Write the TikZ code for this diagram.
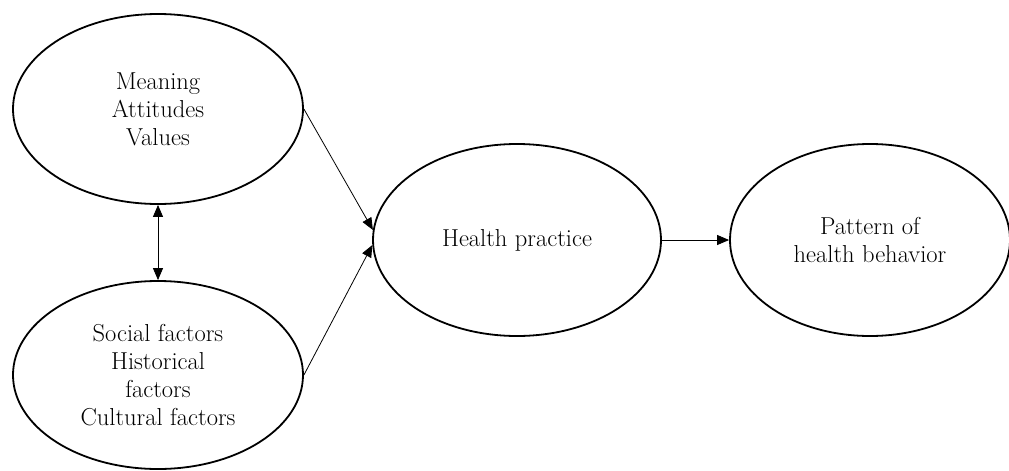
\documentclass[tikz,border=0pt]{standalone}
\usepackage{fontspec}
\usetikzlibrary{arrows.meta,shapes.geometric}
\begin{document}
\begin{tikzpicture}[x=1pt,y=-1pt,
  oval/.style={draw, ellipse, line width=1.8pt, inner sep=0pt, align=center,
    font=\fontsize{24.5}{28}\selectfont},
  conn/.style={line width=0.8pt, -{Triangle[length=12pt,width=10pt]}},
  dconn/.style={line width=0.8pt, {Triangle[length=12pt,width=10pt]}-{Triangle[length=12pt,width=10pt]}}]
\useasboundingbox (0,0) rectangle (1009,471);
\node[oval, minimum width=290pt, minimum height=190pt] (e1) at (158,109) {Meaning\\Attitudes\\Values};
\node[oval, minimum width=290pt, minimum height=188pt] (e2) at (158,375) {Social factors\\Historical\\factors\\Cultural factors};
\node[oval, minimum width=288pt, minimum height=192pt] (hp) at (517,240) {Health practice};
\node[oval, minimum width=280pt, minimum height=192pt] (pb) at (870,240) {Pattern of\\health behavior};
\draw[conn] (e1.east) -- (hp.176);
\draw[conn] (e2.east) -- (hp.182);
\draw[dconn] (e1.south) -- (e2.north);
\draw[conn] (hp.east) -- (pb.west);
\end{tikzpicture}
\end{document}
